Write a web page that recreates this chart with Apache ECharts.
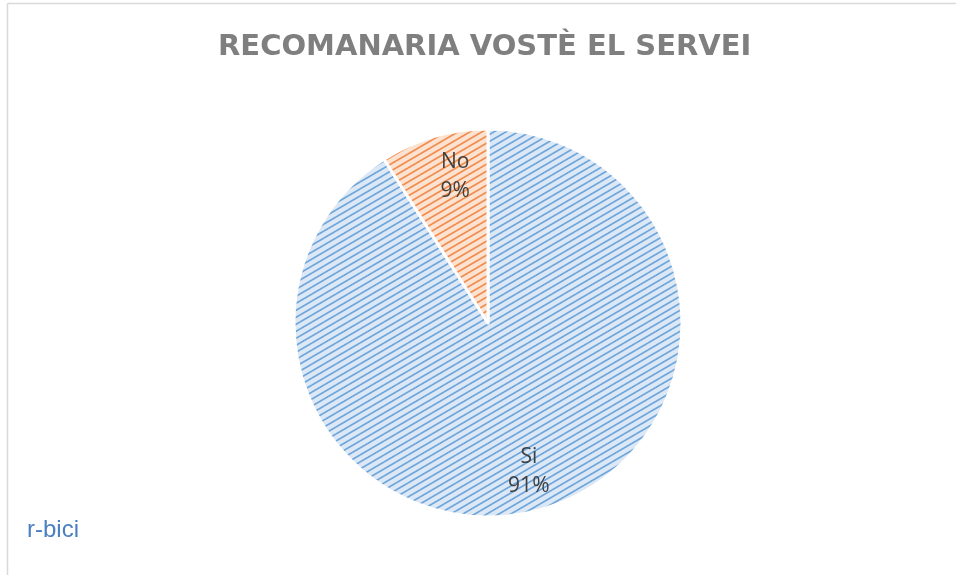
<!DOCTYPE html>
<html>
<head>
<meta charset="utf-8">
<script src="https://cdn.jsdelivr.net/npm/echarts@6/dist/echarts.min.js"></script>
<style>
  html, body { margin: 0; padding: 0; background: #fff; }
  #main { width: 956px; height: 575px; }
</style>
</head>
<body>
<div id="main"></div>
<script>
var titleText = 'RECOMANARIA VOSTÈ EL SERVEI';
var categories = ['Si', 'No'];
var values = [91, 9];

// tile de ratlles diagonals (com el patró d'Excel)
function make_hatch(bg, fg){
  var w = 12, h = 7;
  var c = document.createElement('canvas');
  c.width = w;
  c.height = h;
  var ctx = c.getContext('2d');
  ctx.fillStyle = bg;
  ctx.fillRect(0, 0, w, h);
  ctx.strokeStyle = fg;
  ctx.lineWidth = 1.7;
  for (var dx = -w; dx <= w; dx += w) {
    for (var dy = -h; dy <= h; dy += h) {
      ctx.beginPath();
      ctx.moveTo(0 + dx, h + dy);
      ctx.lineTo(w + dx, 0 + dy);
      ctx.stroke();
    }
  }
  return c;
}

var colors = [
  { image: make_hatch('#dce8f6', '#6ea5da'), repeat: 'repeat' },
  { image: make_hatch('#fce2d0', '#f08c4e'), repeat: 'repeat' }
];

var chartDom = document.getElementById('main');
var myChart = echarts.init(chartDom);
var option;

var pieData = categories.map(function (name, i) {
  return { name: name, value: values[i], itemStyle: { color: colors[i] } };
});
var labelData = categories.map(function (name, i) {
  return { name: name, value: values[i], label: { offset: name === 'No' ? [11, 4] : [-3, -2] } };
});

option = {
  animation: false,
  backgroundColor: '#ffffff',
  title: {
    text: titleText,
    left: 213,
    top: 28,
    textStyle: {
      fontFamily: 'DejaVu Sans',
      fontWeight: 'bold',
      fontSize: 29,
      color: '#7f7f7f'
    }
  },
  graphic: [
    { type: 'line', shape: { x1: 7.5, y1: 3.5, x2: 956, y2: 3.5 }, style: { stroke: '#d9d9d9', lineWidth: 1.5 } },
    { type: 'line', shape: { x1: 7.5, y1: 3.5, x2: 7.5, y2: 575 }, style: { stroke: '#d9d9d9', lineWidth: 1.5 } },
    {
      type: 'text', left: 27, top: 518,
      style: { text: 'r-bici', font: '24px "Liberation Sans"', fill: '#4a7fc1' }
    }
  ],
  series: [
    {
      type: 'pie',
      center: [488, 323],
      radius: [0, 194],
      startAngle: 90,
      clockwise: true,
      label: { show: false },
      labelLine: { show: false },
      itemStyle: { borderColor: '#ffffff', borderWidth: 3 },
      emphasis: { disabled: true },
      data: pieData
    },
    {
      // sèrie transparent només per posar les etiquetes més a prop de la vora
      type: 'pie',
      center: [488, 323],
      radius: [0, 308],
      startAngle: 90,
      clockwise: true,
      silent: true,
      itemStyle: { color: 'rgba(0,0,0,0)' },
      label: {
        show: true,
        position: 'inside',
        formatter: '{b}\n{d}%',
        fontFamily: 'Open Sans',
        fontSize: 21,
        lineHeight: 29,
        color: '#404040'
      },
      labelLine: { show: false },
      emphasis: { disabled: true },
      data: labelData
    }
  ]
};
option && myChart.setOption(option);
</script>
</body>
</html>
